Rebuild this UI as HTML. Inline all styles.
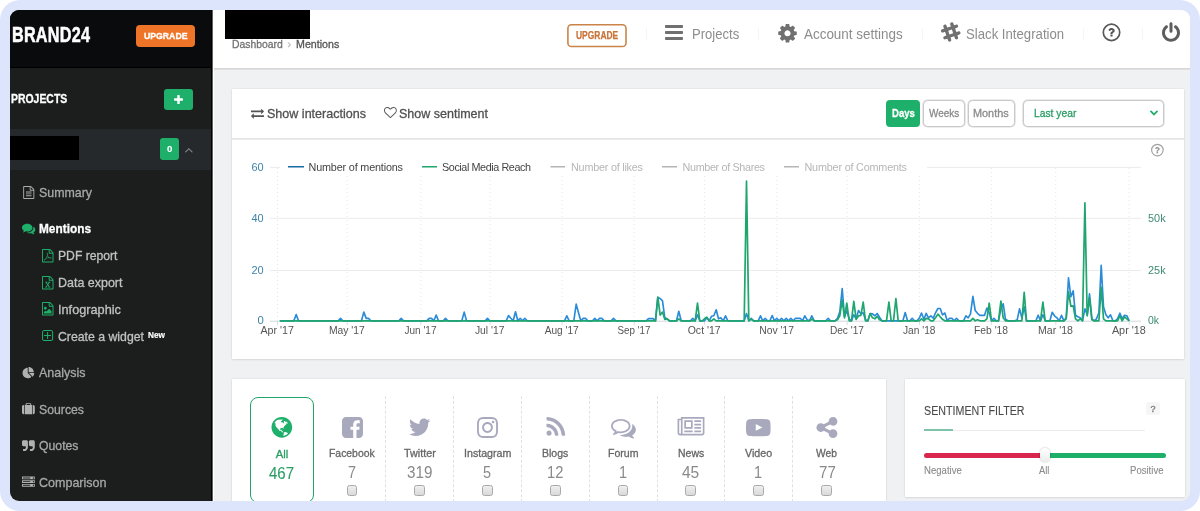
<!DOCTYPE html>
<html lang="en"><head><meta charset="utf-8"><title>Brand24 - Mentions</title><style>
html,body{margin:0;padding:0;background:#fff}
body{width:1200px;height:511px;overflow:hidden;position:relative;font-family:"Liberation Sans",sans-serif}
#frame{position:absolute;left:0;top:0;width:1200px;height:511px;background:#dde5fd;border-radius:20px}
#app{position:absolute;left:10px;top:10px;width:1180px;height:491px;border-radius:9px;overflow:hidden;background:#f0f1f2}
#pg{position:absolute;left:-10px;top:-10px;width:1200px;height:511px}
.b{position:absolute;box-sizing:border-box}
.t{position:absolute;white-space:nowrap;display:block;transform-origin:0 0;-webkit-text-stroke:0.3px}
.i{position:absolute;display:block;overflow:visible}
.card{background:#fff;box-shadow:0 0 2px rgba(0,0,0,.10),0 1px 2px rgba(0,0,0,.07)}
.btn{border:1px solid #c9c9c9;border-radius:4.5px;background:#fff;box-shadow:0 0 0 .6px #d9d9d9}
.cb{width:10.8px;height:10.8px;border:1px solid #a9a9a9;border-radius:2.5px;background:linear-gradient(#efefef,#d9d9d9)}
</style></head>
<body><div id="frame"><div id="app"><div id="pg">
<aside id="sidebar">
<div class="b" style="left:10px;top:10px;width:202px;height:491px;background:#1c1e1e"></div>
<div class="b" style="left:10px;top:10px;width:202px;height:58.3px;background:#0a0b0d;border-bottom:1px solid #000"></div>
<span class="t" style="left:11.6px;top:21px;font-size:21.2px;line-height:28px;font-weight:700;color:#fff;-webkit-text-stroke:0.55px #fff;letter-spacing:0.3px;transform:scaleX(0.765)">BRAND24</span>
<div class="b" style="left:136px;top:25px;width:59px;height:21.5px;background:#ee7528;border-radius:4px"></div>
<span class="t" style="left:144.20px;top:29.60px;font-size:9.1px;line-height:12px;color:#fff;font-weight:700;transform:scaleX(0.9560);">UPGRADE</span>
<span class="t" style="left:11.40px;top:91.00px;font-size:12px;line-height:16px;color:#fff;font-weight:700;transform:scaleX(0.8689);">PROJECTS</span>
<div class="b" style="left:164px;top:88.5px;width:29px;height:21px;background:#1eb06b;border-radius:3px"></div>
<svg class="i" style="left:174.00px;top:94.50px" width="9.00" height="9.00" viewBox="0 -1408 1408 1408" preserveAspectRatio="xMidYMid meet"><path fill="#fff" transform="scale(1,-1)" d="M1408 800C1408 853 1365 896 1312 896H896V1312C896 1365 853 1408 800 1408H608C555 1408 512 1365 512 1312V896H96C43 896 0 853 0 800V608C0 555 43 512 96 512H512V96C512 43 555 0 608 0H800C853 0 896 43 896 96V512H1312C1365 512 1408 555 1408 608Z"/></svg>
<div class="b" style="left:10px;top:129px;width:202px;height:40.5px;background:#25292b"></div>
<div class="b" style="left:10px;top:135.5px;width:69.2px;height:24px;background:#000"></div>
<div class="b" style="left:159.8px;top:138.3px;width:19.7px;height:22px;background:#1eb06b;border-radius:3px"></div>
<span class="t" style="left:166.90px;top:142.90px;font-size:9.6px;line-height:12px;color:#fff;font-weight:700;-webkit-text-stroke:0.1px;">0</span>
<svg class="i" style="left:184.70px;top:147.60px" width="7.70" height="4.60" viewBox="77 -851 998 582" preserveAspectRatio="xMidYMid meet"><path fill="#85888a" transform="scale(1,-1)" d="M1075 352C1075 360 1071 369 1065 375L599 841C593 847 584 851 576 851C568 851 559 847 553 841L87 375C81 369 77 360 77 352C77 344 81 335 87 329L137 279C143 273 152 269 160 269C168 269 177 273 183 279L576 672L969 279C975 273 984 269 992 269C1001 269 1009 273 1015 279L1065 329C1071 335 1075 344 1075 352Z"/></svg>
<svg class="i" style="left:22.50px;top:186.00px" width="11.50" height="13.00" viewBox="0 -1536 1536 1792" preserveAspectRatio="xMidYMid meet"><path fill="#a9abab" transform="scale(1,-1)" d="M1468 1156 1156 1468C1119 1505 1045 1536 992 1536H96C43 1536 0 1493 0 1440V-160C0 -213 43 -256 96 -256H1440C1493 -256 1536 -213 1536 -160V992C1536 1045 1505 1119 1468 1156ZM1024 1400C1041 1394 1058 1385 1065 1378L1378 1065C1385 1058 1394 1041 1400 1024H1024ZM1408 -128H128V1408H896V992C896 939 939 896 992 896H1408ZM384 736V672C384 654 398 640 416 640H1120C1138 640 1152 654 1152 672V736C1152 754 1138 768 1120 768H416C398 768 384 754 384 736ZM1120 512H416C398 512 384 498 384 480V416C384 398 398 384 416 384H1120C1138 384 1152 398 1152 416V480C1152 498 1138 512 1120 512ZM1120 256H416C398 256 384 242 384 224V160C384 142 398 128 416 128H1120C1138 128 1152 142 1152 160V224C1152 242 1138 256 1120 256Z"/></svg>
<span class="t" style="left:39.00px;top:184.00px;font-size:12.8px;line-height:17px;color:#a6a8a8;transform:scaleX(0.9674);">Summary</span>
<svg class="i" style="left:22.00px;top:223.00px" width="13.30" height="12.20" viewBox="0 -1280 1792 1408.2" preserveAspectRatio="xMidYMid meet"><path fill="#1eb06b" transform="scale(1,-1)" d="M1408 768C1408 1051 1093 1280 704 1280C315 1280 0 1051 0 768C0 606 104 461 266 367C232 284 188 245 149 201C138 188 125 176 129 157C129 157 129 157 129 157C132 140 146 128 161 128C162 128 163 128 164 128C194 132 223 137 250 144C351 170 445 213 528 272C584 262 643 256 704 256C1093 256 1408 485 1408 768ZM1792 512C1792 679 1682 827 1513 920C1528 871 1536 820 1536 768C1536 589 1444 424 1277 302C1122 190 919 128 704 128C675 128 645 130 616 132C741 50 907 0 1088 0C1149 0 1208 6 1264 16C1347 -43 1441 -86 1542 -112C1569 -119 1598 -124 1628 -128C1644 -130 1659 -117 1663 -99C1663 -99 1663 -99 1663 -99C1667 -80 1654 -68 1643 -55C1604 -11 1560 28 1526 111C1688 205 1792 349 1792 512Z"/></svg>
<span class="t" style="left:39.00px;top:220.00px;font-size:12.8px;line-height:17px;color:#fff;font-weight:700;transform:scaleX(0.9254);">Mentions</span>
<svg class="i" style="left:41.50px;top:248.50px" width="11.50" height="13.50" viewBox="0 -1536 1536 1792" preserveAspectRatio="xMidYMid meet"><path fill="#1eb06b" transform="scale(1,-1)" d="M1468 1156 1156 1468C1119 1505 1045 1536 992 1536H96C43 1536 0 1493 0 1440V-160C0 -213 43 -256 96 -256H1440C1493 -256 1536 -213 1536 -160V992C1536 1045 1505 1119 1468 1156ZM1024 1400C1041 1394 1058 1385 1065 1378L1378 1065C1385 1058 1394 1041 1400 1024H1024ZM1408 -128H128V1408H896V992C896 939 939 896 992 896H1408ZM894 465C835 513 783 598 748 703C760 772 761 832 762 895C762 905 762 915 762 925C762 928 762 930 761 933C763 935 764 938 765 941C771 973 768 995 756 1009C748 1019 736 1024 721 1024H720H699C679 1024 664 1009 657 984C639 918 649 806 681 697C657 613 622 525 577 435C537 354 501 289 470 238C470 239 469 241 468 242C463 250 453 253 445 248C321 183 267 106 257 60C254 40 258 29 263 24C265 22 266 20 269 19L293 7C302 2 311 0 321 0C381 0 460 86 563 262C670 299 816 330 955 345C1039 301 1136 272 1200 272C1253 272 1268 292 1271 310C1271 310 1271 311 1271 311C1272 312 1273 314 1274 315C1285 339 1279 357 1272 367C1247 408 1162 416 1095 416C1059 416 1020 414 978 409C947 427 919 445 894 465ZM318 54C333 88 380 154 455 212C391 111 348 68 318 54ZM716 974C716 975 717 976 717 978C723 971 729 960 730 942C731 940 731 938 732 937C730 934 729 932 728 929C726 917 723 903 721 886C719 873 717 858 714 842C706 898 706 946 716 974ZM592 313C607 340 622 368 637 396C673 467 701 532 720 593C754 520 798 460 847 417C856 409 866 402 876 394C778 376 680 348 592 313ZM1238 329C1239 328 1240 327 1240 326C1236 325 1231 325 1222 325C1192 325 1147 335 1098 353C1207 353 1233 334 1238 329Z"/></svg>
<span class="t" style="left:58.00px;top:247.00px;font-size:12.8px;line-height:17px;color:#c0c2c2;transform:scaleX(0.9506);">PDF report</span>
<svg class="i" style="left:41.50px;top:275.50px" width="11.50" height="13.50" viewBox="0 -1536 1536 1792" preserveAspectRatio="xMidYMid meet"><path fill="#1eb06b" transform="scale(1,-1)" d="M1468 1156 1156 1468C1119 1505 1045 1536 992 1536H96C43 1536 0 1493 0 1440V-160C0 -213 43 -256 96 -256H1440C1493 -256 1536 -213 1536 -160V992C1536 1045 1505 1119 1468 1156ZM1024 1400C1041 1394 1058 1385 1065 1378L1378 1065C1385 1058 1394 1041 1400 1024H1024ZM1408 -128H128V1408H896V992C896 939 939 896 992 896H1408ZM429 106H497L691 389L502 661H434V768H724V661H648L754 502C762 493 767 486 771 479C773 476 775 473 776 469H778C778 468 787 483 799 502L902 661H828V768H1107V661H1040L845 379L1037 106H1105V0H814V106H890L783 267C776 277 770 283 766 291C764 294 762 297 761 301H759C756 301 750 286 738 267L635 106H710V0H429Z"/></svg>
<span class="t" style="left:58.00px;top:274.00px;font-size:12.8px;line-height:17px;color:#c0c2c2;transform:scaleX(0.9747);">Data export</span>
<svg class="i" style="left:41.50px;top:302.30px" width="11.50" height="13.50" viewBox="0 -1536 1536 1792" preserveAspectRatio="xMidYMid meet"><path fill="#1eb06b" transform="scale(1,-1)" d="M1468 1156 1156 1468C1119 1505 1045 1536 992 1536H96C43 1536 0 1493 0 1440V-160C0 -213 43 -256 96 -256H1440C1493 -256 1536 -213 1536 -160V992C1536 1045 1505 1119 1468 1156ZM1024 1400C1041 1394 1058 1385 1065 1378L1378 1065C1385 1058 1394 1041 1400 1024H1024ZM1408 -128H128V1408H896V992C896 939 939 896 992 896H1408ZM1280 320 960 640 576 256 448 384 256 192V0H1280ZM448 512C554 512 640 598 640 704C640 810 554 896 448 896C342 896 256 810 256 704C256 598 342 512 448 512Z"/></svg>
<span class="t" style="left:58.00px;top:300.80px;font-size:12.8px;line-height:17px;color:#c0c2c2;transform:scaleX(0.9943);">Infographic</span>
<svg class="i" style="left:41.80px;top:330.20px" width="11.20" height="11.10" viewBox="0 -1408 1408 1408" preserveAspectRatio="xMidYMid meet"><path fill="#1eb06b" transform="scale(1,-1)" d="M1152 736C1152 754 1138 768 1120 768H768V1120C768 1138 754 1152 736 1152H672C654 1152 640 1138 640 1120V768H288C270 768 256 754 256 736V672C256 654 270 640 288 640H640V288C640 270 654 256 672 256H736C754 256 768 270 768 288V640H1120C1138 640 1152 654 1152 672ZM1280 288C1280 200 1208 128 1120 128H288C200 128 128 200 128 288V1120C128 1208 200 1280 288 1280H1120C1208 1280 1280 1208 1280 1120V288ZM1408 1120C1408 1279 1279 1408 1120 1408H288C129 1408 0 1279 0 1120V288C0 129 129 0 288 0H1120C1279 0 1408 129 1408 288Z"/></svg>
<span class="t" style="left:58.00px;top:327.50px;font-size:12.8px;line-height:17px;color:#c0c2c2;transform:scaleX(0.9591);">Create a widget</span>
<span class="t" style="left:148.00px;top:329.50px;font-size:8.6px;line-height:11px;color:#fff;font-weight:700;transform:scaleX(0.9596);-webkit-text-stroke:0.15px;">New</span>
<svg class="i" style="left:21.80px;top:366.80px" width="12.80" height="11.30" viewBox="0 -1536 1728 1664" preserveAspectRatio="xMidYMid meet"><path fill="#b0b2b2" transform="scale(1,-1)" d="M768 646V1408C344 1408 0 1064 0 640C0 216 344 -128 768 -128C981 -128 1175 -41 1314 100ZM955 640 1500 94C1641 233 1728 427 1728 640ZM1664 768C1664 1192 1320 1536 896 1536V768H1664Z"/></svg>
<span class="t" style="left:39.00px;top:364.30px;font-size:12.8px;line-height:17px;color:#a6a8a8;transform:scaleX(0.9753);">Analysis</span>
<svg class="i" style="left:21.80px;top:403.40px" width="12.80" height="11.30" viewBox="0 -1408 1792 1536" preserveAspectRatio="xMidYMid meet"><path fill="#b0b2b2" transform="scale(1,-1)" d="M640 1152V1280H1152V1152ZM288 1152H224C101 1152 0 1051 0 928V96C0 -27 101 -128 224 -128H288ZM1408 1152H1280V1312C1280 1365 1237 1408 1184 1408H608C555 1408 512 1365 512 1312V1152H384V-128H1408ZM1792 928C1792 1051 1691 1152 1568 1152H1504V-128H1568C1691 -128 1792 -27 1792 96Z"/></svg>
<span class="t" style="left:39.00px;top:400.90px;font-size:12.8px;line-height:17px;color:#a6a8a8;transform:scaleX(0.9579);">Sources</span>
<svg class="i" style="left:21.80px;top:439.70px" width="12.80" height="11.30" viewBox="0 -1408 1664 1408" preserveAspectRatio="xMidYMid meet"><path fill="#b0b2b2" transform="scale(1,-1)" d="M768 1216C768 1322 682 1408 576 1408H192C86 1408 0 1322 0 1216V832C0 726 86 640 192 640H416C469 640 512 597 512 544V512C512 371 397 256 256 256H192C157 256 128 227 128 192V64C128 29 157 0 192 0H256C538 0 768 230 768 512ZM1664 1216C1664 1322 1578 1408 1472 1408H1088C982 1408 896 1322 896 1216V832C896 726 982 640 1088 640H1312C1365 640 1408 597 1408 544V512C1408 371 1293 256 1152 256H1088C1053 256 1024 227 1024 192V64C1024 29 1053 0 1088 0H1152C1434 0 1664 230 1664 512Z"/></svg>
<span class="t" style="left:39.00px;top:437.20px;font-size:12.8px;line-height:17px;color:#a6a8a8;transform:scaleX(0.9569);">Quotes</span>
<svg class="i" style="left:21.80px;top:476.10px" width="12.80" height="11.30" viewBox="0 -1408 1792 1408" preserveAspectRatio="xMidYMid meet"><path fill="#b0b2b2" transform="scale(1,-1)" d="M128 128V256H1152V128ZM128 640V768H1152V640ZM1696 192C1696 139 1653 96 1600 96C1547 96 1504 139 1504 192C1504 245 1547 288 1600 288C1653 288 1696 245 1696 192ZM128 1152V1280H1152V1152ZM1696 704C1696 651 1653 608 1600 608C1547 608 1504 651 1504 704C1504 757 1547 800 1600 800C1653 800 1696 757 1696 704ZM1696 1216C1696 1163 1653 1120 1600 1120C1547 1120 1504 1163 1504 1216C1504 1269 1547 1312 1600 1312C1653 1312 1696 1269 1696 1216ZM1792 384H0V0H1792ZM1792 896H0V512H1792ZM1792 1408H0V1024H1792Z"/></svg>
<span class="t" style="left:39.00px;top:473.60px;font-size:12.8px;line-height:17px;color:#a6a8a8;transform:scaleX(0.9784);">Comparison</span>
</aside>
<header id="topbar">
<div class="b" style="left:212px;top:10px;width:978px;height:58px;background:#fff"></div>
<div class="b" style="left:212px;top:68px;width:978px;height:2px;background:linear-gradient(#d2d2d2,#e4e4e4)"></div>
<div class="b" style="left:211px;top:10px;width:4px;height:491px;background:linear-gradient(90deg,#000 0,#000 1.25px,#fff 1.9px,#fff 3.1px,rgba(255,255,255,0) 3.4px)"></div>
<div class="b" style="left:224.5px;top:10px;width:85.5px;height:28.5px;background:#000"></div>
<span class="t" style="left:231.70px;top:37.30px;font-size:10.8px;line-height:14px;color:#727272;transform:scaleX(0.9619);">Dashboard</span>
<span class="t" style="left:287.50px;top:37.00px;font-size:10.8px;line-height:14px;color:#bbb;">›</span>
<span class="t" style="left:295.70px;top:37.30px;font-size:10.8px;line-height:14px;color:#555;transform:scaleX(0.9875);">Mentions</span>
<svg class="i" style="left:560px;top:20px" width="74" height="32" viewBox="560 20 74 32"><rect x="567.9" y="24.8" width="58.1" height="21.7" rx="3.6" fill="#fff" stroke="#cb8448" stroke-width="1.6"/></svg>
<span class="t" style="left:575.70px;top:28.50px;font-size:10.2px;line-height:13px;color:#c8743a;font-weight:700;transform:scaleX(0.8294);-webkit-text-stroke:0.25px;">UPGRADE</span>
<div class="b" style="left:646px;top:28px;width:1px;height:12px;background:#f5f5f5"></div>
<div class="b" style="left:758px;top:28px;width:1px;height:12px;background:#f5f5f5"></div>
<div class="b" style="left:922px;top:28px;width:1px;height:12px;background:#f5f5f5"></div>
<div class="b" style="left:1083px;top:28px;width:1px;height:12px;background:#f5f5f5"></div>
<div class="b" style="left:1142px;top:28px;width:1px;height:12px;background:#f5f5f5"></div>
<svg class="i" style="left:665.00px;top:25.30px" width="18.00" height="14.90" viewBox="0 -1280 1536 1280" preserveAspectRatio="none"><path fill="#707070" transform="scale(1,-1)" d="M1536 192C1536 227 1507 256 1472 256H64C29 256 0 227 0 192V64C0 29 29 0 64 0H1472C1507 0 1536 29 1536 64ZM1536 704C1536 739 1507 768 1472 768H64C29 768 0 739 0 704V576C0 541 29 512 64 512H1472C1507 512 1536 541 1536 576ZM1536 1216C1536 1251 1507 1280 1472 1280H64C29 1280 0 1251 0 1216V1088C0 1053 29 1024 64 1024H1472C1507 1024 1536 1053 1536 1088Z"/></svg>
<span class="t" style="left:691.80px;top:24.50px;font-size:14.4px;line-height:19px;color:#8d8d8d;transform:scaleX(0.9080);-webkit-text-stroke:0;">Projects</span>
<svg class="i" style="left:777.50px;top:23.50px" width="19.00" height="18.50" viewBox="0 -1408 1536 1536" preserveAspectRatio="xMidYMid meet"><path fill="#707070" transform="scale(1,-1)" d="M1024 640C1024 499 909 384 768 384C627 384 512 499 512 640C512 781 627 896 768 896C909 896 1024 781 1024 640ZM1536 749C1536 766 1524 782 1507 785L1324 813C1314 846 1300 879 1283 911C1317 958 1354 1002 1388 1048C1393 1055 1396 1062 1396 1071C1396 1079 1394 1087 1389 1093C1347 1152 1277 1214 1224 1263C1217 1269 1208 1273 1199 1273C1190 1273 1181 1270 1175 1264L1033 1157C1004 1172 974 1184 943 1194L915 1378C913 1395 897 1408 879 1408H657C639 1408 625 1396 621 1380C605 1320 599 1255 592 1194C561 1184 530 1171 501 1156L363 1263C355 1269 346 1273 337 1273C303 1273 168 1127 144 1094C139 1087 135 1080 135 1071C135 1062 139 1054 145 1047C182 1002 218 957 252 909C236 879 223 849 213 817L27 789C12 786 0 768 0 753V531C0 514 12 498 29 495L212 468C222 434 236 401 253 369C219 322 182 278 148 232C143 225 140 218 140 209C140 201 142 193 147 186C189 128 259 66 312 18C319 11 328 7 337 7C346 7 355 10 362 16L503 123C532 108 562 96 593 86L621 -98C623 -115 639 -128 657 -128H879C897 -128 911 -116 915 -100C931 -40 937 25 944 86C975 96 1006 109 1035 124L1173 16C1181 11 1190 7 1199 7C1233 7 1368 154 1392 186C1398 193 1401 200 1401 209C1401 218 1397 227 1391 234C1354 279 1318 323 1284 372C1300 401 1312 431 1323 463L1508 491C1524 494 1536 512 1536 527Z"/></svg>
<span class="t" style="left:804.30px;top:24.50px;font-size:14.4px;line-height:19px;color:#8d8d8d;transform:scaleX(0.9338);-webkit-text-stroke:0;">Account settings</span>
<svg class="i" style="left:941.00px;top:22.00px" width="19.50" height="20.00" viewBox="0 -1536 1664 1664" preserveAspectRatio="xMidYMid meet"><path fill="#707070" transform="scale(1,-1)" d="M1519 760C1504 760 1488 757 1473 752L1309 696L1204 1012L1361 1066C1417 1085 1465 1137 1465 1199C1465 1279 1398 1337 1320 1337C1305 1337 1291 1335 1277 1331L1115 1276L1062 1437C1042 1496 986 1536 923 1536C844 1536 779 1470 779 1391C779 1375 782 1359 787 1344L841 1184L531 1079L477 1239C457 1299 402 1338 339 1338C259 1338 195 1272 195 1193C195 1177 198 1161 203 1146L256 987L99 934C40 914 0 858 0 796C0 716 62 655 142 655C158 655 174 658 190 663L346 717L451 404L295 351C236 331 196 275 196 213C196 132 257 72 338 72C355 72 372 76 388 81L541 134L596 -29C616 -89 671 -128 734 -128C814 -128 878 -61 878 17C878 33 875 49 870 64L815 228L1125 334L1180 169C1200 109 1256 70 1319 70C1398 70 1462 136 1462 215C1462 231 1460 247 1455 262L1399 429L1571 488C1631 509 1664 554 1664 618C1664 700 1601 760 1519 760ZM725 498 620 811 930 918 1035 603Z"/></svg>
<span class="t" style="left:965.80px;top:24.50px;font-size:14.4px;line-height:19px;color:#8d8d8d;transform:scaleX(0.9154);-webkit-text-stroke:0;">Slack Integration</span>
<svg class="i" style="left:1100px;top:21px" width="24" height="24" viewBox="1100 21 24 24"><circle cx="1111.5" cy="32.4" r="8.2" fill="none" stroke="#5a5a5a" stroke-width="1.7"/></svg>
<svg class="i" style="left:1107.90px;top:28.00px" width="7.20" height="8.60" viewBox="95.8476 -1280 924.152 1280" preserveAspectRatio="xMidYMid meet"><path fill="#555" transform="scale(1,-1)" d="M704 280C704 302 686 320 664 320H424C402 320 384 302 384 280V40C384 18 402 0 424 0H664C686 0 704 18 704 40ZM1020 880C1020 1109 780 1280 566 1280C362 1280 210 1193 102 1014C91 996 95 974 112 961L276 836C284 831 292 828 301 828C312 828 324 834 332 844C391 918 415 942 439 959C461 974 502 988 547 988C628 988 701 938 701 882C701 818 669 785 592 750C504 710 384 606 384 485V440C384 418 398 384 420 384H660C683 384 700 410 700 432C700 461 737 530 796 564C891 617 1020 690 1020 880Z"/></svg>
<svg class="i" style="left:1161.80px;top:22.00px" width="18.00" height="20.00" viewBox="0 -1536 1536 1664" preserveAspectRatio="xMidYMid meet"><path fill="#5e5e5e" transform="scale(1,-1)" d="M1536 640C1536 883 1424 1107 1229 1253C1173 1296 1092 1285 1050 1228C1007 1172 1019 1091 1075 1049C1205 951 1280 802 1280 640C1280 358 1050 128 768 128C486 128 256 358 256 640C256 802 331 951 461 1049C517 1091 529 1172 486 1228C444 1285 364 1296 307 1253C112 1107 0 883 0 640C0 217 345 -128 768 -128C1191 -128 1536 217 1536 640ZM896 1408C896 1478 838 1536 768 1536C698 1536 640 1478 640 1408V768C640 698 698 640 768 640C838 640 896 698 896 768Z"/></svg>
</header>
<main id="content"><section id="chart-card">
<div class="b card" style="left:232px;top:88.8px;width:952.4px;height:270.7px"></div>
<div class="b" style="left:232px;top:138px;width:952.4px;height:2px;background:linear-gradient(#e2e2e2,#eeeeee)"></div>
<svg class="i" style="left:251.00px;top:107.50px" width="13.00" height="11.50" viewBox="0 -1248 1792 1344" preserveAspectRatio="xMidYMid meet"><path fill="#555" transform="scale(1,-1)" d="M1792 352C1792 370 1777 384 1760 384H384V576C384 594 369 608 352 608C344 608 335 605 329 599L9 279C3 273 0 265 0 256C0 248 3 240 9 234L328 -86C335 -92 343 -96 352 -96C370 -96 384 -81 384 -64V128H1760C1777 128 1792 143 1792 160ZM1792 896C1792 904 1789 913 1783 919L1464 1238C1457 1244 1449 1248 1440 1248C1422 1248 1408 1234 1408 1216V1024H32C15 1024 0 1009 0 992V800C0 783 15 768 32 768H1408V576C1408 559 1423 544 1440 544C1448 544 1457 547 1463 553L1783 873C1789 879 1792 888 1792 896Z"/></svg>
<span class="t" style="left:267.30px;top:104.60px;font-size:13px;line-height:17px;color:#505050;transform:scaleX(0.9646);">Show interactions</span>
<svg class="i" style="left:383.50px;top:107.30px" width="12.80" height="11.20" viewBox="0 -1408 1792 1536" preserveAspectRatio="xMidYMid meet"><path fill="#555" transform="scale(1,-1)" d="M1664 940C1664 757 1479 587 1476 584L896 25L315 585C313 587 128 757 128 940C128 1221 318 1280 478 1280C627 1280 795 1119 847 1057C871 1028 921 1028 945 1057C997 1119 1165 1280 1314 1280C1474 1280 1664 1221 1664 940ZM1792 940C1792 1233 1613 1408 1314 1408C1139 1408 975 1270 896 1192C817 1270 653 1408 478 1408C179 1408 0 1233 0 940C0 700 220 499 228 492L852 -110C864 -122 880 -128 896 -128C912 -128 928 -122 940 -110L1563 490C1572 499 1792 700 1792 940Z"/></svg>
<span class="t" style="left:399.30px;top:104.60px;font-size:13px;line-height:17px;color:#505050;transform:scaleX(0.9622);">Show sentiment</span>
<div class="b" style="left:885.5px;top:100px;width:34.5px;height:26.5px;background:#1eb06b;border-radius:4px"></div>
<span class="t" style="left:891.70px;top:105.50px;font-size:11.2px;line-height:15px;color:#fff;font-weight:700;transform:scaleX(0.8518);">Days</span>
<div class="b btn" style="left:923px;top:100px;width:41.5px;height:26.5px"></div>
<span class="t" style="left:928.70px;top:105.50px;font-size:11.2px;line-height:15px;color:#8a8a8a;transform:scaleX(0.8899);">Weeks</span>
<div class="b btn" style="left:967.5px;top:100px;width:47px;height:26.5px"></div>
<span class="t" style="left:973.30px;top:105.50px;font-size:11.2px;line-height:15px;color:#8a8a8a;transform:scaleX(0.9718);">Months</span>
<div class="b btn" style="left:1022.5px;top:100px;width:141px;height:26.5px"></div>
<span class="t" style="left:1033.60px;top:105.50px;font-size:11.4px;line-height:15px;color:#2a9d64;transform:scaleX(0.9038);">Last year</span>
<svg class="i" style="left:1150.00px;top:109.50px" width="8.00" height="6.00" viewBox="90.25 -1002.75 1611.5 1034.5" preserveAspectRatio="xMidYMid meet"><path fill="#1eb06b" transform="scale(1,-1)" d="M1683 728C1708 753 1708 794 1683 819L1517 984C1492 1009 1452 1009 1427 984L896 453L365 984C340 1009 300 1009 275 984L109 819C84 794 84 753 109 728L851 -13C876 -38 916 -38 941 -13L1683 728Z"/></svg>
<svg class="i" style="left:1149px;top:142px" width="18" height="18" viewBox="1149 142 18 18"><circle cx="1157.4" cy="150.1" r="5.8" fill="none" stroke="#a2a2a2" stroke-width="1.15"/></svg>
<svg class="i" style="left:1154.60px;top:147.20px" width="4.80" height="6.40" viewBox="95.8476 -1280 924.152 1280" preserveAspectRatio="xMidYMid meet"><path fill="#9a9a9a" transform="scale(1,-1)" d="M704 280C704 302 686 320 664 320H424C402 320 384 302 384 280V40C384 18 402 0 424 0H664C686 0 704 18 704 40ZM1020 880C1020 1109 780 1280 566 1280C362 1280 210 1193 102 1014C91 996 95 974 112 961L276 836C284 831 292 828 301 828C312 828 324 834 332 844C391 918 415 942 439 959C461 974 502 988 547 988C628 988 701 938 701 882C701 818 669 785 592 750C504 710 384 606 384 485V440C384 418 398 384 420 384H660C683 384 700 410 700 432C700 461 737 530 796 564C891 617 1020 690 1020 880Z"/></svg>
<svg class="i" style="left:0;top:0" width="1200" height="511" viewBox="0 0 1200 511" font-family="Liberation Sans, sans-serif">
<line x1="277.5" y1="168" x2="277.5" y2="321" stroke="#e6e6e6" stroke-width="1" stroke-dasharray="1 3"/>
<line x1="347.2" y1="168" x2="347.2" y2="321" stroke="#e6e6e6" stroke-width="1" stroke-dasharray="1 3"/>
<line x1="420.8" y1="168" x2="420.8" y2="321" stroke="#e6e6e6" stroke-width="1" stroke-dasharray="1 3"/>
<line x1="490" y1="168" x2="490" y2="321" stroke="#e6e6e6" stroke-width="1" stroke-dasharray="1 3"/>
<line x1="562" y1="168" x2="562" y2="321" stroke="#e6e6e6" stroke-width="1" stroke-dasharray="1 3"/>
<line x1="634.2" y1="168" x2="634.2" y2="321" stroke="#e6e6e6" stroke-width="1" stroke-dasharray="1 3"/>
<line x1="704.5" y1="168" x2="704.5" y2="321" stroke="#e6e6e6" stroke-width="1" stroke-dasharray="1 3"/>
<line x1="777" y1="168" x2="777" y2="321" stroke="#e6e6e6" stroke-width="1" stroke-dasharray="1 3"/>
<line x1="847.2" y1="168" x2="847.2" y2="321" stroke="#e6e6e6" stroke-width="1" stroke-dasharray="1 3"/>
<line x1="919.5" y1="168" x2="919.5" y2="321" stroke="#e6e6e6" stroke-width="1" stroke-dasharray="1 3"/>
<line x1="991.3" y1="168" x2="991.3" y2="321" stroke="#e6e6e6" stroke-width="1" stroke-dasharray="1 3"/>
<line x1="1055.8" y1="168" x2="1055.8" y2="321" stroke="#e6e6e6" stroke-width="1" stroke-dasharray="1 3"/>
<line x1="1129.2" y1="168" x2="1129.2" y2="321" stroke="#e6e6e6" stroke-width="1" stroke-dasharray="1 3"/>
<line x1="270" y1="167.4" x2="1141" y2="167.4" stroke="#ebebeb" stroke-width="1"/>
<line x1="270" y1="218.3" x2="1141" y2="218.3" stroke="#ebebeb" stroke-width="1"/>
<line x1="270" y1="270.5" x2="1141" y2="270.5" stroke="#ebebeb" stroke-width="1"/>
<line x1="270" y1="321.2" x2="1141" y2="321.2" stroke="#d3d8de" stroke-width="1"/>
<line x1="277.5" y1="321" x2="277.5" y2="325" stroke="#d9dde2" stroke-width="1"/>
<line x1="347.2" y1="321" x2="347.2" y2="325" stroke="#d9dde2" stroke-width="1"/>
<line x1="420.8" y1="321" x2="420.8" y2="325" stroke="#d9dde2" stroke-width="1"/>
<line x1="490" y1="321" x2="490" y2="325" stroke="#d9dde2" stroke-width="1"/>
<line x1="562" y1="321" x2="562" y2="325" stroke="#d9dde2" stroke-width="1"/>
<line x1="634.2" y1="321" x2="634.2" y2="325" stroke="#d9dde2" stroke-width="1"/>
<line x1="704.5" y1="321" x2="704.5" y2="325" stroke="#d9dde2" stroke-width="1"/>
<line x1="777" y1="321" x2="777" y2="325" stroke="#d9dde2" stroke-width="1"/>
<line x1="847.2" y1="321" x2="847.2" y2="325" stroke="#d9dde2" stroke-width="1"/>
<line x1="919.5" y1="321" x2="919.5" y2="325" stroke="#d9dde2" stroke-width="1"/>
<line x1="991.3" y1="321" x2="991.3" y2="325" stroke="#d9dde2" stroke-width="1"/>
<line x1="1055.8" y1="321" x2="1055.8" y2="325" stroke="#d9dde2" stroke-width="1"/>
<line x1="1129.2" y1="321" x2="1129.2" y2="325" stroke="#d9dde2" stroke-width="1"/>
<rect x="280" y="158" width="647" height="17.5" fill="#fff"/>
<polyline fill="none" stroke="#2a8bd8" stroke-width="1.65" stroke-linejoin="round" points="279.8,320.8 282.2,320.8 284.5,320.8 286.8,320.8 289.2,320.8 291.5,320.8 293.8,320.8 296.2,314.6 298.5,320.8 300.8,320.8 303.2,320.8 305.5,320.8 307.8,320.8 310.2,320.8 312.5,320.8 314.8,320.8 317.2,320.8 319.5,320.8 321.8,320.8 324.2,320.8 326.5,320.8 328.8,320.8 331.2,320.8 333.5,320.8 335.8,320.8 338.2,320.8 340.5,318.4 342.8,320.8 345.2,320.8 347.5,320.8 349.8,320.8 352.2,320.8 354.5,320.8 356.8,320.8 359.2,320.8 361.5,320.8 363.8,312.1 366.2,318.4 368.5,318.4 370.8,320.8 373.2,320.8 375.5,320.8 377.8,320.8 380.2,320.8 382.5,320.8 384.8,320.8 387.2,320.8 389.5,320.8 391.8,320.8 394.2,320.8 396.5,320.8 398.8,320.8 401.2,318.4 403.5,320.8 405.8,320.8 408.2,320.8 410.5,320.8 412.8,320.8 415.2,320.8 417.5,320.8 419.8,320.8 422.2,320.8 424.5,320.8 426.8,320.8 429.2,318.4 431.5,318.4 433.8,320.8 436.2,315.1 438.5,320.8 440.8,320.8 443.2,320.8 445.5,318.4 447.8,320.8 450.2,320.8 452.5,320.8 454.8,320.8 457.2,320.8 459.5,320.8 461.8,320.8 464.2,312.1 466.5,320.8 468.8,320.8 471.2,320.8 473.5,320.8 475.8,320.8 478.2,320.8 480.5,320.8 482.8,320.8 485.2,320.8 487.5,318.4 489.8,320.8 492.2,320.8 494.5,320.8 496.8,320.8 499.2,320.8 501.5,320.8 503.8,320.8 506.2,320.8 508.5,315.5 510.8,318.3 513.2,320.8 515.5,311.8 517.8,320.8 520.2,318.3 522.5,320.8 524.8,318.3 527.2,320.8 529.5,320.8 531.8,320.8 534.2,320.8 536.5,320.8 538.8,320.8 541.2,320.8 543.5,320.8 545.8,320.8 548.2,320.8 550.5,320.8 552.8,320.8 555.2,320.8 557.5,320.8 559.8,320.8 562.2,320.8 564.5,320.8 566.8,315.8 569.2,320.8 571.5,320.8 573.8,320.8 576.2,304.1 578.5,312.8 580.8,320.8 583.2,318.4 585.5,318.4 587.8,320.8 590.2,320.8 592.5,320.8 594.8,318.4 597.2,320.8 599.5,318.4 601.8,318.4 604.2,320.8 606.5,320.8 608.8,320.8 611.2,320.8 613.5,318.4 615.8,320.8 618.2,320.8 620.5,320.8 622.8,320.8 625.2,320.8 627.5,320.8 629.8,320.8 632.2,320.8 634.5,320.8 636.8,320.8 639.2,320.8 641.5,320.8 643.8,320.8 646.2,320.8 648.5,318.6 650.8,318.6 653.2,318.6 655.5,320.8 657.8,297.5 660.2,298.5 662.5,300.8 664.8,317.8 667.2,318.8 669.5,320.8 671.8,320.8 674.2,320.8 676.5,320.8 678.8,311.3 681.2,320.8 683.5,320.8 685.8,320.8 688.2,320.8 690.5,320.8 692.8,318.3 695.2,320.8 697.5,314.8 699.8,320.8 702.2,320.8 704.5,320.8 706.8,317.8 709.2,320.8 711.5,316.3 713.8,315.8 716.2,309.8 718.5,318.8 720.8,317.8 723.2,320.8 725.5,315.8 727.8,320.8 730.2,320.8 732.5,320.8 734.8,320.8 737.2,320.8 739.5,320.8 741.8,320.8 744.2,320.8 746.5,313.5 748.8,320.8 751.2,318.3 753.5,320.8 755.8,320.8 758.2,320.8 760.5,315.8 762.8,320.8 765.2,318.3 767.5,320.8 769.8,320.8 772.2,315.5 774.5,320.8 776.8,318.3 779.2,320.8 781.5,318.3 783.8,320.8 786.2,318.3 788.5,320.8 790.8,318.3 793.2,320.8 795.5,318.3 797.8,318.3 800.2,318.3 802.5,320.8 804.8,315.8 807.2,319.8 809.5,320.8 811.8,315.8 814.2,320.8 816.5,320.8 818.8,320.8 821.2,320.8 823.5,320.8 825.8,320.8 828.2,318.3 830.5,320.8 832.8,320.8 835.2,320.8 837.5,318.3 839.8,311.8 842.2,288.5 844.5,316.8 846.8,310.8 849.2,318.8 851.5,320.8 853.8,314.8 856.2,318.8 858.5,310.5 860.9,313.8 863.2,312.8 865.5,319.8 867.9,320.8 870.2,313.5 872.5,313.8 874.9,315.8 877.2,313.5 879.5,317.3 881.9,320.8 884.2,320.8 886.5,320.8 888.9,320.8 891.2,320.8 893.5,320.8 895.9,320.8 898.2,320.8 900.5,320.8 902.9,320.8 905.2,312.5 907.5,320.8 909.9,320.8 912.2,318.3 914.5,320.8 916.9,320.8 919.2,318.3 921.5,313.0 923.9,319.3 926.2,313.3 928.5,317.8 930.9,315.8 933.2,318.3 935.5,312.8 937.9,308.5 940.2,308.5 942.5,314.8 944.9,313.0 947.2,320.8 949.5,318.3 951.9,318.3 954.2,320.8 956.5,318.3 958.9,320.8 961.2,320.8 963.5,320.8 965.9,315.8 968.2,317.8 970.5,313.8 972.9,296.3 975.2,310.5 977.5,313.3 979.9,315.3 982.2,315.3 984.5,315.3 986.9,308.0 989.2,312.8 991.5,320.8 993.9,318.3 996.2,320.8 998.5,320.8 1000.9,308.8 1003.2,303.8 1005.5,319.3 1007.9,320.8 1010.2,320.8 1012.5,320.8 1014.9,320.8 1017.2,319.8 1019.5,308.8 1021.9,317.8 1024.2,306.8 1026.5,320.8 1028.9,320.8 1031.2,320.8 1033.5,320.8 1035.9,320.8 1038.2,315.2 1040.5,320.8 1042.9,314.8 1045.2,320.8 1047.5,320.8 1049.9,320.8 1052.2,312.3 1054.5,315.8 1056.9,317.8 1059.2,320.8 1061.5,315.3 1063.9,320.8 1066.2,317.8 1068.5,277.8 1070.9,296.8 1073.2,290.8 1075.5,315.3 1077.9,316.8 1080.2,317.8 1082.5,320.8 1084.9,308.8 1087.2,314.8 1089.5,293.8 1091.9,318.8 1094.2,320.8 1096.5,318.8 1098.9,312.8 1101.2,265.3 1103.5,306.8 1105.9,314.8 1108.2,317.8 1110.5,314.8 1112.9,320.8 1115.2,320.8 1117.5,318.8 1119.9,313.2 1122.2,318.8 1124.5,315.3 1126.9,315.8 1129.2,320.8"/>
<polyline fill="none" stroke="#1fa56e" stroke-width="1.7" stroke-linejoin="round" points="279.8,320.8 282.2,320.8 284.5,320.8 286.8,320.8 289.2,320.8 291.5,320.8 293.8,320.8 296.2,320.8 298.5,320.8 300.8,320.8 303.2,320.8 305.5,320.8 307.8,320.8 310.2,320.8 312.5,320.8 314.8,320.8 317.2,320.8 319.5,320.8 321.8,320.8 324.2,320.8 326.5,320.8 328.8,320.8 331.2,320.8 333.5,320.8 335.8,320.8 338.2,320.8 340.5,320.8 342.8,320.8 345.2,320.8 347.5,320.8 349.8,320.8 352.2,320.8 354.5,320.8 356.8,320.8 359.2,320.8 361.5,320.8 363.8,320.8 366.2,320.8 368.5,320.8 370.8,320.8 373.2,320.8 375.5,320.8 377.8,320.8 380.2,320.8 382.5,320.8 384.8,320.8 387.2,320.8 389.5,320.8 391.8,320.8 394.2,320.8 396.5,320.8 398.8,320.8 401.2,320.8 403.5,320.8 405.8,320.8 408.2,320.8 410.5,320.8 412.8,320.8 415.2,320.8 417.5,320.8 419.8,320.8 422.2,320.8 424.5,320.8 426.8,320.8 429.2,320.8 431.5,320.8 433.8,320.8 436.2,320.8 438.5,320.8 440.8,320.8 443.2,320.8 445.5,320.8 447.8,320.8 450.2,320.8 452.5,320.8 454.8,320.8 457.2,320.8 459.5,320.8 461.8,320.8 464.2,320.8 466.5,320.8 468.8,320.8 471.2,320.8 473.5,320.8 475.8,320.8 478.2,320.8 480.5,320.8 482.8,320.8 485.2,320.8 487.5,320.8 489.8,320.8 492.2,320.8 494.5,320.8 496.8,320.8 499.2,320.8 501.5,320.8 503.8,320.8 506.2,320.8 508.5,320.8 510.8,320.8 513.2,320.8 515.5,320.8 517.8,320.8 520.2,320.8 522.5,320.8 524.8,320.8 527.2,320.8 529.5,320.8 531.8,320.8 534.2,320.8 536.5,320.8 538.8,320.8 541.2,320.8 543.5,320.8 545.8,320.8 548.2,320.8 550.5,320.8 552.8,320.8 555.2,320.8 557.5,320.8 559.8,320.8 562.2,320.8 564.5,320.8 566.8,320.8 569.2,320.8 571.5,320.8 573.8,320.8 576.2,320.8 578.5,320.8 580.8,320.8 583.2,320.8 585.5,320.8 587.8,320.8 590.2,320.8 592.5,320.8 594.8,320.8 597.2,320.8 599.5,320.8 601.8,320.8 604.2,320.8 606.5,320.8 608.8,320.8 611.2,320.8 613.5,320.8 615.8,320.8 618.2,320.8 620.5,320.8 622.8,320.8 625.2,320.8 627.5,320.8 629.8,320.8 632.2,320.8 634.5,320.8 636.8,320.8 639.2,320.8 641.5,320.8 643.8,320.8 646.2,320.8 648.5,320.8 650.8,320.8 653.2,320.8 655.5,320.8 657.8,297.1 660.2,315.1 662.5,312.1 664.8,319.3 667.2,318.8 669.5,320.8 671.8,320.8 674.2,320.8 676.5,320.8 678.8,318.8 681.2,320.8 683.5,320.8 685.8,320.8 688.2,320.8 690.5,320.8 692.8,320.8 695.2,320.8 697.5,303.0 699.8,320.8 702.2,320.8 704.5,318.8 706.8,317.1 709.2,320.8 711.5,320.8 713.8,318.8 716.2,320.8 718.5,320.8 720.8,320.8 723.2,320.8 725.5,320.8 727.8,320.8 730.2,320.8 732.5,320.8 734.8,320.8 737.2,320.8 739.5,320.8 741.8,320.8 744.2,320.8 746.5,181.2 748.8,320.8 751.2,319.3 753.5,320.8 755.8,320.8 758.2,320.8 760.5,320.8 762.8,320.8 765.2,320.8 767.5,320.8 769.8,320.8 772.2,320.8 774.5,320.8 776.8,320.8 779.2,320.8 781.5,320.8 783.8,320.8 786.2,320.8 788.5,320.8 790.8,320.8 793.2,320.8 795.5,320.8 797.8,320.8 800.2,320.8 802.5,320.8 804.8,320.8 807.2,320.8 809.5,320.8 811.8,319.3 814.2,320.8 816.5,320.8 818.8,320.8 821.2,320.8 823.5,320.8 825.8,320.8 828.2,320.8 830.5,320.8 832.8,320.8 835.2,320.8 837.5,319.8 839.8,315.8 842.2,299.8 844.5,317.8 846.8,303.0 849.2,320.8 851.5,320.8 853.8,301.3 856.2,319.3 858.5,315.8 860.9,315.3 863.2,302.1 865.5,320.8 867.9,320.8 870.2,313.5 872.5,317.8 874.9,318.8 877.2,316.3 879.5,319.8 881.9,320.8 884.2,320.8 886.5,320.8 888.9,302.1 891.2,320.8 893.5,320.8 895.9,298.5 898.2,320.8 900.5,320.8 902.9,320.8 905.2,320.8 907.5,320.8 909.9,320.8 912.2,320.8 914.5,320.8 916.9,320.8 919.2,320.8 921.5,318.8 923.9,320.8 926.2,318.3 928.5,318.8 930.9,320.8 933.2,320.8 935.5,317.8 937.9,314.1 940.2,316.8 942.5,319.3 944.9,320.8 947.2,320.8 949.5,320.8 951.9,320.8 954.2,320.8 956.5,320.8 958.9,320.8 961.2,320.8 963.5,320.8 965.9,320.8 968.2,320.8 970.5,320.8 972.9,318.3 975.2,320.8 977.5,319.8 979.9,320.8 982.2,320.8 984.5,320.8 986.9,318.8 989.2,303.0 991.5,320.8 993.9,320.8 996.2,320.8 998.5,320.8 1000.9,301.0 1003.2,317.8 1005.5,320.8 1007.9,320.8 1010.2,320.8 1012.5,320.8 1014.9,320.8 1017.2,320.8 1019.5,320.8 1021.9,320.8 1024.2,292.3 1026.5,320.8 1028.9,320.8 1031.2,320.8 1033.5,320.8 1035.9,320.8 1038.2,320.8 1040.5,320.8 1042.9,302.0 1045.2,320.8 1047.5,320.8 1049.9,320.8 1052.2,320.8 1054.5,320.8 1056.9,320.8 1059.2,320.8 1061.5,320.8 1063.9,320.8 1066.2,318.8 1068.5,291.8 1070.9,306.4 1073.2,305.8 1075.5,318.8 1077.9,320.8 1080.2,318.8 1082.5,320.8 1084.9,202.8 1087.2,315.8 1089.5,297.8 1091.9,319.8 1094.2,320.8 1096.5,320.8 1098.9,320.8 1101.2,287.3 1103.5,318.8 1105.9,320.8 1108.2,320.8 1110.5,320.8 1112.9,320.8 1115.2,320.8 1117.5,320.8 1119.9,315.8 1122.2,320.8 1124.5,316.8 1126.9,318.8 1129.2,320.8"/>
<text x="251.5" y="170.7" font-size="11.8" textLength="12.2" lengthAdjust="spacingAndGlyphs" fill="#3f83a8">60</text>
<text x="251.5" y="222.2" font-size="11.8" textLength="12.2" lengthAdjust="spacingAndGlyphs" fill="#3f83a8">40</text>
<text x="251.5" y="273.7" font-size="11.8" textLength="12.2" lengthAdjust="spacingAndGlyphs" fill="#3f83a8">20</text>
<text x="257.4" y="324.2" font-size="11.8" textLength="6.3" lengthAdjust="spacingAndGlyphs" fill="#3f83a8">0</text>
<text x="1148" y="222.2" font-size="11.8" textLength="17.6" lengthAdjust="spacingAndGlyphs" fill="#3f8a74">50k</text>
<text x="1148" y="273.7" font-size="11.8" textLength="17.6" lengthAdjust="spacingAndGlyphs" fill="#3f8a74">25k</text>
<text x="1148" y="324.2" font-size="11.8" textLength="11" lengthAdjust="spacingAndGlyphs" fill="#3f8a74">0k</text>
<text x="260.4" y="334.3" font-size="11" textLength="33.5" lengthAdjust="spacingAndGlyphs" fill="#555">Apr '17</text>
<text x="328.9" y="334.3" font-size="11" textLength="36" lengthAdjust="spacingAndGlyphs" fill="#555">May '17</text>
<text x="404.5" y="334.3" font-size="11" textLength="32" lengthAdjust="spacingAndGlyphs" fill="#555">Jun '17</text>
<text x="474.9" y="334.3" font-size="11" textLength="29.5" lengthAdjust="spacingAndGlyphs" fill="#555">Jul '17</text>
<text x="544.7" y="334.3" font-size="11" textLength="34" lengthAdjust="spacingAndGlyphs" fill="#555">Aug '17</text>
<text x="617.4" y="334.3" font-size="11" textLength="33" lengthAdjust="spacingAndGlyphs" fill="#555">Sep '17</text>
<text x="687.7" y="334.3" font-size="11" textLength="33" lengthAdjust="spacingAndGlyphs" fill="#555">Oct '17</text>
<text x="759.3" y="334.3" font-size="11" textLength="34.75" lengthAdjust="spacingAndGlyphs" fill="#555">Nov '17</text>
<text x="829.9" y="334.3" font-size="11" textLength="34" lengthAdjust="spacingAndGlyphs" fill="#555">Dec '17</text>
<text x="903.0" y="334.3" font-size="11" textLength="32.5" lengthAdjust="spacingAndGlyphs" fill="#555">Jan '18</text>
<text x="974.0" y="334.3" font-size="11" textLength="34.1" lengthAdjust="spacingAndGlyphs" fill="#555">Feb '18</text>
<text x="1038.0" y="334.3" font-size="11" textLength="35" lengthAdjust="spacingAndGlyphs" fill="#555">Mar '18</text>
<text x="1111.9" y="334.3" font-size="11" textLength="34" lengthAdjust="spacingAndGlyphs" fill="#555">Apr '18</text>
<line x1="288" y1="166.7" x2="304" y2="166.7" stroke="#1a6aa5" stroke-width="1.6"/>
<text x="308.5" y="170.8" font-size="10.8" textLength="94.5" lengthAdjust="spacing" fill="#444">Number of mentions</text>
<line x1="422" y1="166.7" x2="437" y2="166.7" stroke="#1fa56e" stroke-width="1.6"/>
<text x="442" y="170.8" font-size="10.8" textLength="89" lengthAdjust="spacing" fill="#444">Social Media Reach</text>
<line x1="550.5" y1="166.7" x2="565" y2="166.7" stroke="#b5b5b5" stroke-width="1.6"/>
<text x="571" y="170.8" font-size="10.8" textLength="72" lengthAdjust="spacing" fill="#b6b6b6">Number of likes</text>
<line x1="662" y1="166.7" x2="677" y2="166.7" stroke="#b5b5b5" stroke-width="1.6"/>
<text x="682.5" y="170.8" font-size="10.8" textLength="82.5" lengthAdjust="spacing" fill="#b6b6b6">Number of Shares</text>
<line x1="784" y1="166.7" x2="799" y2="166.7" stroke="#b5b5b5" stroke-width="1.6"/>
<text x="804.5" y="170.8" font-size="10.8" textLength="102.5" lengthAdjust="spacing" fill="#b6b6b6">Number of Comments</text>
</svg>
</section>
<section id="sources-card">
<div class="b card" style="left:232px;top:379px;width:654px;height:140px"></div>
<div class="b" style="left:250px;top:396.5px;width:64px;height:106.5px;box-sizing:border-box;border:1.8px solid #20a56c;border-radius:8px"></div>
<svg class="i" style="left:271.30px;top:417.30px" width="21.70" height="20.70" viewBox="0 -1408 1536 1536" preserveAspectRatio="xMidYMid meet"><path fill="#1eb06b" transform="scale(1,-1)" d="M768 1408C344 1408 0 1064 0 640C0 216 344 -128 768 -128C1192 -128 1536 216 1536 640C1536 1064 1192 1408 768 1408ZM1042 887C1053 894 1071 903 1085 899C1096 896 1105 892 1092 883C1086 879 1077 883 1070 881C1079 879 1092 875 1088 866C1114 851 1080 833 1063 835C1071 834 1046 819 1046 820C1037 815 1025 815 1018 806C1010 795 1021 776 1006 780C1000 767 977 774 967 760C978 748 956 731 945 746C935 742 940 731 930 725C934 719 935 713 928 709C930 710 942 700 945 699C943 694 939 690 934 690C939 677 928 663 919 655C909 647 886 639 883 637C865 620 853 595 885 588C886 588 886 555 887 554C889 542 894 507 873 520C863 525 857 553 854 564C851 576 850 576 842 588C829 573 827 584 816 591C805 597 789 595 783 601C768 590 757 593 754 610C750 602 758 590 757 587C752 577 743 579 735 585C722 595 694 578 679 585C680 585 684 581 687 579C684 567 677 574 671 570C664 565 658 555 652 550C665 525 651 501 652 474C652 454 665 419 684 408C693 403 723 401 732 405C746 411 744 422 749 434C754 447 760 453 775 454C818 456 785 421 780 403C777 390 776 375 774 363C779 361 784 362 789 362C789 366 792 371 792 374C798 364 818 361 824 373C831 361 845 352 847 338C849 324 862 309 843 309C829 309 845 281 847 276C858 256 876 248 896 258C896 250 893 228 882 226C872 224 853 245 857 256C856 252 853 249 850 247C840 259 823 265 814 277C812 280 785 321 791 323C777 317 749 327 736 334C715 345 712 374 686 370C668 367 663 360 642 368C628 373 616 383 602 390C586 399 558 408 552 428C546 444 548 463 539 478C533 488 515 508 502 508C514 508 491 538 488 541C477 554 437 589 445 609C447 612 425 620 421 621C425 611 426 600 431 591C436 581 442 572 448 562C459 544 474 522 472 500C459 496 463 515 459 523C452 536 433 536 428 550C430 551 431 551 433 552C434 569 409 583 413 595C399 606 399 627 389 641C380 654 365 660 352 669C347 672 311 718 324 721C304 716 294 763 297 775C297 775 295 775 295 776C299 788 292 850 308 851C297 850 294 877 297 882C299 886 314 871 315 869C321 872 327 880 325 887C322 895 311 902 304 908C301 910 261 936 260 935C264 942 263 949 257 954C238 939 248 968 238 971C234 972 230 975 226 979C284 1071 365 1148 461 1201C467 1202 475 1202 483 1202C501 1200 511 1185 524 1176C526 1181 522 1189 519 1194C522 1202 534 1204 541 1206C550 1207 563 1209 571 1205C565 1214 558 1222 551 1230C550 1229 547 1227 546 1225C535 1234 514 1222 504 1218C496 1214 489 1209 481 1206C476 1204 473 1204 469 1205C499 1221 530 1235 563 1246C569 1242 575 1235 584 1228C578 1233 578 1210 580 1206C591 1191 615 1201 630 1201C629 1201 674 1195 665 1206C672 1196 672 1181 681 1172C690 1181 677 1191 683 1200C685 1204 703 1209 709 1212C716 1217 704 1224 701 1226C691 1232 652 1235 671 1258C678 1266 703 1262 711 1257C722 1251 734 1240 719 1230C726 1229 759 1220 754 1207C757 1213 762 1222 770 1222C779 1221 781 1200 785 1195C799 1170 823 1220 827 1218C809 1225 843 1234 852 1231C859 1228 870 1204 857 1205C868 1195 869 1173 849 1174C835 1175 819 1194 806 1179C797 1169 793 1154 784 1145C770 1131 751 1132 734 1134C741 1133 719 1110 717 1106C711 1099 707 1091 705 1083C703 1073 705 1062 700 1052C717 1057 726 1026 719 1025C740 1028 757 1028 777 1021C791 1016 812 1010 818 995C822 1001 841 998 847 996C859 990 860 977 863 966C867 951 880 926 897 934C900 936 922 946 914 952C906 959 897 977 905 987C913 998 932 1001 937 1015C945 1038 913 1035 913 1052C913 1062 926 1065 925 1077C925 1087 910 1107 922 1114C932 1120 980 1110 989 1104C998 1098 1026 1090 1028 1081C1026 1081 1025 1081 1023 1081C1031 1074 1038 1059 1024 1055C1033 1057 1059 1047 1041 1041C1047 1044 1052 1042 1058 1046C1065 1050 1069 1057 1078 1052C1080 1051 1091 1073 1097 1072C1106 1071 1108 1058 1112 1052C1116 1043 1127 1040 1131 1031C1138 1014 1135 998 1158 992C1165 990 1184 1001 1183 986C1187 990 1189 993 1189 994C1190 980 1196 964 1213 966C1213 966 1213 947 1211 944C1205 935 1190 937 1181 932C1178 931 1154 910 1157 907C1144 922 1123 922 1106 918C1088 915 1071 913 1054 906C1046 902 1038 898 1032 891C1029 887 1024 869 1019 868C1029 870 1034 881 1042 887ZM879 10C878 15 877 25 877 26C876 42 893 53 892 68C881 71 878 82 880 94C882 111 897 123 909 134C921 145 924 168 921 182C916 206 916 231 912 255C913 249 930 251 933 243C937 250 939 259 944 266C948 272 955 274 961 279C971 285 992 308 1004 294C1014 282 989 269 1002 258C1006 266 1002 278 1010 286C1026 304 1037 284 1053 279C1070 274 1076 268 1089 257C1085 261 1105 268 1107 269C1126 273 1134 262 1147 252C1161 242 1183 235 1181 215C1191 213 1197 210 1205 207C1213 203 1224 205 1230 199C1138 102 1016 34 879 10Z"/></svg>
<span class="t" style="left:275.73px;top:447.00px;font-size:11.3px;line-height:15px;color:#2a9d64;">All</span>
<span class="t" style="left:269.30px;top:463.00px;font-size:16px;line-height:21px;color:#2a9d64;transform:scaleX(0.9394);-webkit-text-stroke:0.1px;">467</span>
<svg class="i" style="left:342.00px;top:417.00px" width="21.00" height="21.00" viewBox="0 -1408 1536 1536" preserveAspectRatio="xMidYMid meet"><path fill="#a9a9be" transform="scale(1,-1)" d="M1248 1408H288C129 1408 0 1279 0 1120V160C0 1 129 -128 288 -128H820V467H620V699H820V870C820 1068 942 1176 1119 1176C1203 1176 1276 1170 1297 1167V960L1175 959C1078 959 1060 914 1060 847V699H1289L1259 467H1060V-128H1248C1407 -128 1536 1 1536 160V1120C1536 1279 1407 1408 1248 1408Z"/></svg>
<span class="t" style="left:329.30px;top:446.40px;font-size:11px;line-height:14px;color:#666;transform:scaleX(0.9453);">Facebook</span>
<span class="t" style="left:347.90px;top:462.00px;font-size:16px;line-height:21px;color:#8a8a8a;transform:scaleX(0.9009);-webkit-text-stroke:0;">7</span>
<div class="b cb" style="left:346.5px;top:485px"></div>
<svg class="i" style="left:409.30px;top:418.30px" width="21.40" height="18.40" viewBox="44 -1280 1576 1280" preserveAspectRatio="xMidYMid meet"><path fill="#a9a9be" transform="scale(1,-1)" d="M1620 1128C1562 1103 1499 1085 1434 1078C1501 1118 1552 1181 1576 1256C1514 1219 1444 1192 1371 1178C1312 1241 1228 1280 1135 1280C956 1280 812 1135 812 957C812 932 815 907 820 883C552 897 313 1025 154 1221C126 1173 110 1118 110 1058C110 946 167 847 254 789C201 791 151 806 108 830C108 829 108 827 108 826C108 669 219 539 367 509C340 502 311 498 282 498C261 498 241 500 221 503C262 375 381 282 523 279C412 192 273 141 122 141C95 141 70 142 44 145C187 53 357 0 540 0C1134 0 1459 492 1459 919C1459 933 1459 947 1458 961C1521 1007 1576 1064 1620 1128Z"/></svg>
<span class="t" style="left:404.10px;top:446.40px;font-size:11px;line-height:14px;color:#666;transform:scaleX(0.9816);">Twitter</span>
<span class="t" style="left:407.00px;top:462.00px;font-size:16px;line-height:21px;color:#8a8a8a;transform:scaleX(0.9506);-webkit-text-stroke:0;">319</span>
<div class="b cb" style="left:414.3px;top:485px"></div>
<svg class="i" style="left:477.00px;top:417.00px" width="21.00" height="21.00" viewBox="-0.0625 -1408.06 1536.12 1536.12" preserveAspectRatio="xMidYMid meet"><path fill="#a9a9be" transform="scale(1,-1)" d="M1024 640C1024 499 909 384 768 384C627 384 512 499 512 640C512 781 627 896 768 896C909 896 1024 781 1024 640ZM1162 640C1162 858 986 1034 768 1034C550 1034 374 858 374 640C374 422 550 246 768 246C986 246 1162 422 1162 640ZM1270 1050C1270 1101 1229 1142 1178 1142C1127 1142 1086 1101 1086 1050C1086 999 1127 958 1178 958C1229 958 1270 999 1270 1050ZM768 1270C880 1270 1120 1279 1221 1239C1256 1225 1282 1208 1309 1181C1336 1154 1353 1128 1367 1093C1407 992 1398 752 1398 640C1398 528 1407 288 1367 187C1353 152 1336 126 1309 99C1282 72 1256 55 1221 41C1120 1 880 10 768 10C656 10 416 1 315 41C280 55 254 72 227 99C200 126 183 152 169 187C129 288 138 528 138 640C138 752 129 992 169 1093C183 1128 200 1154 227 1181C254 1208 280 1225 315 1239C416 1279 656 1270 768 1270ZM1536 640C1536 746 1537 851 1531 957C1525 1080 1497 1189 1407 1279C1317 1369 1208 1397 1085 1403C979 1409 874 1408 768 1408C662 1408 557 1409 451 1403C328 1397 219 1369 129 1279C39 1189 11 1080 5 957C-1 851 0 746 0 640C0 534 -1 429 5 323C11 200 39 91 129 1C219 -89 328 -117 451 -123C557 -129 662 -128 768 -128C874 -128 979 -129 1085 -123C1208 -117 1317 -89 1407 1C1497 91 1525 200 1531 323C1537 429 1536 534 1536 640Z"/></svg>
<span class="t" style="left:463.90px;top:446.40px;font-size:11px;line-height:14px;color:#666;transform:scaleX(0.9694);">Instagram</span>
<span class="t" style="left:483.40px;top:462.00px;font-size:16px;line-height:21px;color:#8a8a8a;transform:scaleX(0.9009);-webkit-text-stroke:0;">5</span>
<div class="b cb" style="left:482.0px;top:485px"></div>
<svg class="i" style="left:545.60px;top:417.30px" width="19.70" height="18.70" viewBox="0 -1408 1408.11 1408" preserveAspectRatio="xMidYMid meet"><path fill="#a9a9be" transform="scale(1,-1)" d="M384 192C384 298 298 384 192 384C86 384 0 298 0 192C0 86 86 0 192 0C298 0 384 86 384 192ZM896 69C879 282 786 483 634 634C483 786 282 879 69 896C67 896 66 896 64 896C48 896 32 890 21 879C7 867 0 850 0 832V697C0 664 25 637 58 634C363 605 605 363 634 58C637 25 664 0 697 0H832C850 0 867 7 879 21C891 34 897 51 896 69ZM1408 67C1390 417 1243 746 994 994C746 1243 417 1390 67 1408C66 1408 65 1408 64 1408C48 1408 32 1402 20 1390C7 1378 0 1362 0 1344V1201C0 1168 26 1140 60 1138C641 1104 1104 641 1137 60C1139 26 1167 0 1201 0H1344C1362 0 1378 7 1390 20C1403 33 1409 50 1408 67Z"/></svg>
<span class="t" style="left:542.10px;top:446.40px;font-size:11px;line-height:14px;color:#666;transform:scaleX(0.9564);">Blogs</span>
<span class="t" style="left:547.30px;top:462.00px;font-size:16px;line-height:21px;color:#8a8a8a;transform:scaleX(0.9178);-webkit-text-stroke:0;">12</span>
<div class="b cb" style="left:549.8px;top:485px"></div>
<svg class="i" style="left:610.70px;top:418.50px" width="24.90" height="19.50" viewBox="0 -1280 1792 1408.2" preserveAspectRatio="xMidYMid meet"><path fill="#a9a9be" transform="scale(1,-1)" d="M704 1152C1016 1152 1280 976 1280 768C1280 560 1016 384 704 384C652 384 601 389 551 398L498 408L454 377C434 363 413 350 392 338L427 422L330 478C202 552 128 658 128 768C128 976 392 1152 704 1152ZM704 1280C315 1280 0 1051 0 768C0 606 104 461 266 367C232 284 188 245 149 201C138 188 125 176 129 157C129 157 129 157 129 157C132 140 146 128 161 128C162 128 163 128 164 128C194 132 223 137 250 144C351 170 445 213 528 272C584 262 643 256 704 256C1093 256 1408 485 1408 768C1408 1051 1093 1280 704 1280ZM1526 111C1688 205 1792 349 1792 512C1792 679 1682 827 1513 920C1528 871 1536 820 1536 768C1536 589 1444 424 1277 302C1122 190 919 128 704 128C675 128 645 130 616 132C741 50 907 0 1088 0C1149 0 1208 6 1264 16C1347 -43 1441 -86 1542 -112C1569 -119 1598 -124 1628 -128C1644 -130 1659 -117 1663 -99C1663 -99 1663 -99 1663 -99C1667 -80 1654 -68 1643 -55C1604 -11 1560 28 1526 111Z"/></svg>
<span class="t" style="left:607.90px;top:446.40px;font-size:11px;line-height:14px;color:#666;transform:scaleX(0.9594);">Forum</span>
<span class="t" style="left:618.90px;top:462.00px;font-size:16px;line-height:21px;color:#8a8a8a;transform:scaleX(0.9009);-webkit-text-stroke:0;">1</span>
<div class="b cb" style="left:617.5px;top:485px"></div>
<svg class="i" style="left:677.00px;top:417.30px" width="28.00" height="18.50" viewBox="0 -1408 2048 1408" preserveAspectRatio="xMidYMid meet"><path fill="#a9a9be" transform="scale(1,-1)" d="M1024 1024V640H640V1024H1024ZM1152 384H512V256H1152ZM1152 1152H512V512H1152ZM1792 384H1280V256H1792ZM1792 640H1280V512H1792ZM1792 896H1280V768H1792ZM1792 1152H1280V1024H1792ZM256 192C256 157 227 128 192 128C157 128 128 157 128 192V1152H256V192ZM1920 192C1920 157 1891 128 1856 128H373C380 148 384 170 384 192V1280H1920V192ZM2048 1408H256V1280H0V192C0 86 86 0 192 0H1856C1962 0 2048 86 2048 192Z"/></svg>
<span class="t" style="left:677.90px;top:446.40px;font-size:11px;line-height:14px;color:#666;transform:scaleX(0.9527);">News</span>
<span class="t" style="left:682.10px;top:462.00px;font-size:16px;line-height:21px;color:#8a8a8a;transform:scaleX(0.9685);-webkit-text-stroke:0;">45</span>
<div class="b cb" style="left:685.3px;top:485px"></div>
<svg class="i" style="left:746.40px;top:418.70px" width="24.60" height="17.30" viewBox="-0.00907029 -1270 1792.02 1260" preserveAspectRatio="xMidYMid meet"><path fill="#a9a9be" transform="scale(1,-1)" d="M711 408V911L1195 658L711 408ZM896 1270C519 1270 269 1252 269 1252C234 1248 157 1248 89 1176C89 1176 34 1122 18 998C-1 853 0 708 0 708V572C0 572 -1 427 18 282C34 159 89 104 89 104C157 33 247 35 287 28C287 28 430 14 896 10C1273 10 1523 29 1523 29C1558 33 1635 33 1703 104C1703 104 1758 159 1774 282C1793 427 1792 572 1792 572V708C1792 708 1793 853 1774 998C1758 1122 1703 1176 1703 1176C1635 1248 1558 1248 1523 1252C1523 1252 1273 1270 896 1270Z"/></svg>
<span class="t" style="left:745.00px;top:446.40px;font-size:11px;line-height:14px;color:#666;transform:scaleX(0.9699);">Video</span>
<span class="t" style="left:754.40px;top:462.00px;font-size:16px;line-height:21px;color:#8a8a8a;transform:scaleX(0.9009);-webkit-text-stroke:0;">1</span>
<div class="b cb" style="left:753.0px;top:485px"></div>
<svg class="i" style="left:816.00px;top:416.80px" width="21.80" height="21.00" viewBox="0 -1408 1536 1536" preserveAspectRatio="xMidYMid meet"><path fill="#a9a9be" transform="scale(1,-1)" d="M1216 512C1132 512 1055 479 998 426L638 606C639 617 640 629 640 640C640 651 639 663 638 674L998 854C1055 801 1132 768 1216 768C1393 768 1536 911 1536 1088C1536 1265 1393 1408 1216 1408C1039 1408 896 1265 896 1088C896 1077 897 1065 898 1054L538 874C481 927 404 960 320 960C143 960 0 817 0 640C0 463 143 320 320 320C404 320 481 353 538 406L898 226C897 215 896 203 896 192C896 15 1039 -128 1216 -128C1393 -128 1536 15 1536 192C1536 369 1393 512 1216 512Z"/></svg>
<span class="t" style="left:816.00px;top:446.40px;font-size:11px;line-height:14px;color:#666;transform:scaleX(0.9358);">Web</span>
<span class="t" style="left:818.50px;top:462.00px;font-size:16px;line-height:21px;color:#8a8a8a;transform:scaleX(0.9459);-webkit-text-stroke:0;">77</span>
<div class="b cb" style="left:821.0px;top:485px"></div>
<div class="b" style="left:385.4px;top:396px;width:0;height:106px;border-left:1px dashed #e1e1e1"></div>
<div class="b" style="left:453.1px;top:396px;width:0;height:106px;border-left:1px dashed #e1e1e1"></div>
<div class="b" style="left:520.8px;top:396px;width:0;height:106px;border-left:1px dashed #e1e1e1"></div>
<div class="b" style="left:588.8px;top:396px;width:0;height:106px;border-left:1px dashed #e1e1e1"></div>
<div class="b" style="left:656.5px;top:396px;width:0;height:106px;border-left:1px dashed #e1e1e1"></div>
<div class="b" style="left:724.2px;top:396px;width:0;height:106px;border-left:1px dashed #e1e1e1"></div>
<div class="b" style="left:792px;top:396px;width:0;height:106px;border-left:1px dashed #e1e1e1"></div>
</section>
<section id="sentiment-card">
<div class="b card" style="left:905px;top:379px;width:279.5px;height:118.4px"></div>
<span class="t" style="left:923.80px;top:403.00px;font-size:12.3px;line-height:16px;color:#4a4a4a;transform:scaleX(0.8692);-webkit-text-stroke:0.1px;">SENTIMENT FILTER</span>
<div class="b" style="left:1146px;top:402px;width:13.5px;height:13px;background:#f6f6f6;border-radius:2px"></div>
<span class="t" style="left:1150.50px;top:402.70px;font-size:9px;line-height:12px;color:#777;">?</span>
<div class="b" style="left:924px;top:429.5px;width:221px;height:1px;background:#ececec"></div>
<div class="b" style="left:924px;top:429px;width:29px;height:1.5px;background:#7fc3a8"></div>
<div class="b" style="left:924px;top:452.5px;width:121.5px;height:5.3px;background:#d9264f;border-radius:3px"></div>
<div class="b" style="left:1045px;top:452.5px;width:120.5px;height:5.3px;background:#1eb06b;border-radius:3px"></div>
<div class="b" style="left:1039.7px;top:448px;width:10.5px;height:14.3px;background:linear-gradient(#fff,#ececec);border-radius:5px;box-shadow:0 0 2px rgba(0,0,0,.35)"></div>
<span class="t" style="left:924.20px;top:463.80px;font-size:10.4px;line-height:14px;color:#8a8a8a;transform:scaleX(0.9213);-webkit-text-stroke:0.1px;">Negative</span>
<span class="t" style="left:1038.60px;top:463.80px;font-size:10.4px;line-height:14px;color:#8a8a8a;transform:scaleX(0.9009);-webkit-text-stroke:0.1px;">All</span>
<span class="t" style="left:1129.50px;top:463.80px;font-size:10.4px;line-height:14px;color:#8a8a8a;transform:scaleX(0.9203);-webkit-text-stroke:0.1px;">Positive</span>
</section></main>
</div></div></div></body></html>
